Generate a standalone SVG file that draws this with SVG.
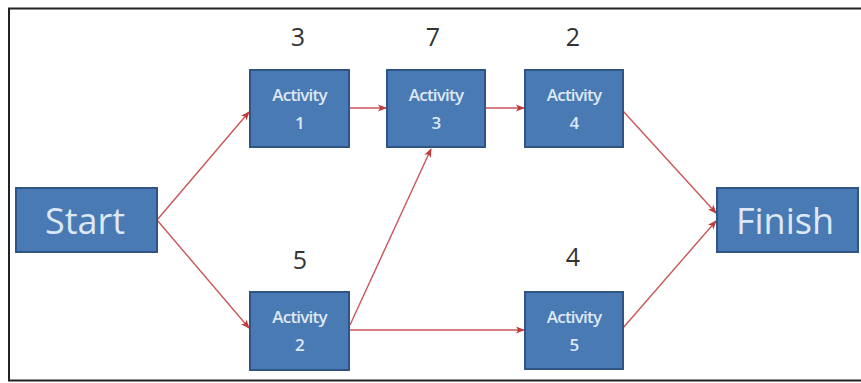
<svg xmlns="http://www.w3.org/2000/svg" width="861" height="383" viewBox="0 0 861 383">
<defs>
<marker id="ah" viewBox="0 0 10 10" refX="9" refY="5" markerWidth="9" markerHeight="9" markerUnits="userSpaceOnUse" orient="auto">
<path d="M0,1 L10,5 L0,9 L2.5,5 Z" fill="#c0393b"/>
</marker>
<style>
.box{fill:#4a7ab4;stroke:#2f5486;stroke-width:2}
.act{font-family:"Open Sans","Liberation Sans",sans-serif;font-size:17px;font-weight:600;letter-spacing:-0.8px;fill:#dde8f5;text-anchor:middle}
.big{font-family:"Open Sans","Liberation Sans",sans-serif;font-size:36px;fill:#dde8f5;text-anchor:middle}
.num{font-family:"Open Sans","Liberation Sans",sans-serif;font-size:25px;fill:#333;text-anchor:middle}
.c{stroke:#c9565a;stroke-width:1.4;fill:none;marker-end:url(#ah)}
</style>
</defs>
<rect x="0" y="0" width="861" height="383" fill="#fff"/>
<rect x="9" y="8.5" width="858" height="372" fill="none" stroke="#222" stroke-width="2"/>
<g id="connectors">
<line class="c" x1="157" y1="220" x2="249" y2="112"/>
<line class="c" x1="157" y1="220" x2="249" y2="328"/>
<line class="c" x1="349" y1="108" x2="386" y2="108"/>
<line class="c" x1="485" y1="108" x2="524" y2="108"/>
<line class="c" x1="350" y1="325" x2="431" y2="149"/>
<line class="c" x1="349" y1="330" x2="524" y2="330"/>
<line class="c" x1="623" y1="111" x2="716" y2="213"/>
<line class="c" x1="623" y1="328" x2="716" y2="221"/>
</g>
<g id="start"><rect class="box" x="16" y="188" width="141" height="64"/><text class="big" x="85" y="234">Start</text></g>
<g id="finish"><rect class="box" x="717" y="188" width="141" height="64"/><text class="big" x="785" y="234">Finish</text></g>
<g id="activity1"><rect class="box" x="250" y="70" width="99" height="77"/><text class="act" x="299.5" y="101">Activity</text><text class="act" x="299.5" y="129">1</text><text class="num" x="298" y="46">3</text></g>
<g id="activity3"><rect class="box" x="387" y="70" width="98" height="77"/><text class="act" x="436" y="101">Activity</text><text class="act" x="436" y="129">3</text><text class="num" x="433" y="46">7</text></g>
<g id="activity4"><rect class="box" x="525" y="70" width="98" height="77"/><text class="act" x="574" y="101">Activity</text><text class="act" x="574" y="129">4</text><text class="num" x="573" y="46">2</text></g>
<g id="activity2"><rect class="box" x="250" y="292" width="99" height="78"/><text class="act" x="299.5" y="323">Activity</text><text class="act" x="299.5" y="351">2</text><text class="num" x="300" y="269">5</text></g>
<g id="activity5"><rect class="box" x="525" y="292" width="98" height="77"/><text class="act" x="574" y="323">Activity</text><text class="act" x="574" y="351">5</text><text class="num" x="573" y="266">4</text></g>
</svg>
